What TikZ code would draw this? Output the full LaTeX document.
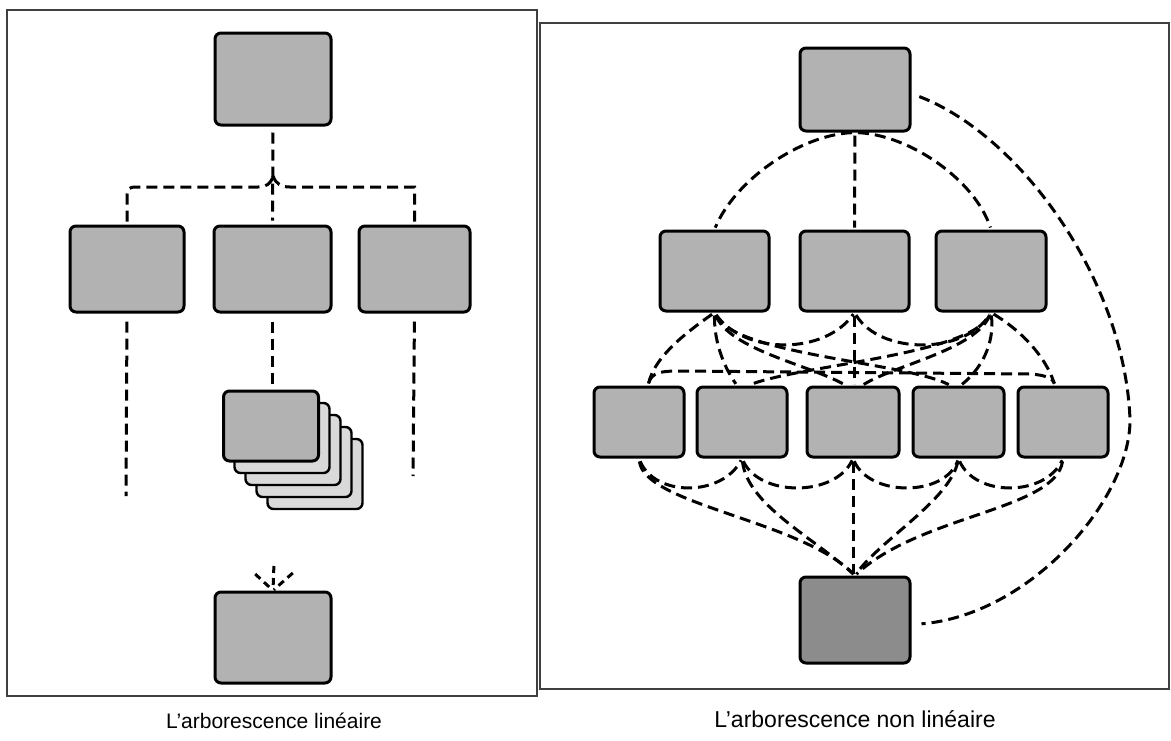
\documentclass[tikz,border=0pt]{standalone}
\usepackage{fontspec}
\setmainfont{Liberation Sans}
\usetikzlibrary{calc}
\begin{document}
\begin{tikzpicture}[x=0.5pt,y=-0.5pt,
  box/.style={draw=black, line width=1.5pt, rounded corners=3pt, fill=black!30, inner sep=0pt},
  backcard/.style={box, line width=1.2pt, fill=black!15},
  darkbox/.style={box, fill=black!45},
  dl/.style={dashed, dash pattern=on 5.5pt off 3pt, line width=1.5pt, shorten <=1.5pt, shorten >=1pt},
  frame/.style={draw=black!75, line width=0.9pt},
  captext/.style={inner sep=0pt},
  ]
\useasboundingbox (0,0) rectangle (1171,740);
% frames
\draw[frame] (7,10) rectangle (537,696);
\draw[frame] (540,23) rectangle (1169,689);

% ---------- left panel ----------
\node[box, minimum width=58pt, minimum height=46pt] (ltop) at (273,79) {};
\node[box, minimum width=57pt, minimum height=43pt] (lm1) at (127,269) {};
\node[box, minimum width=58.5pt, minimum height=43pt] (lm2) at (272.5,269) {};
\node[box, minimum width=55.5pt, minimum height=43pt] (lm3) at (414.5,269) {};
\foreach \k in {4,3,2,1}{
  \node[backcard, minimum width=47.5pt, minimum height=35pt] (card\k) at (271+11*\k,426+12*\k) {};
}
\node[box, minimum width=47.5pt, minimum height=35pt] (card0) at (271,426) {};
\node[box, minimum width=58pt, minimum height=45.5pt] (lbot) at (273,637.5) {};

\coordinate (bj) at (273,176);
\draw[dl, shorten <=3pt, shorten >=2pt] (ltop.south) -- (lm2.north);
\draw[dl, shorten >=0pt] (lm1.north) -- (127,196) .. controls (127,189) and (129,187) .. (136,187) -- (258,187) .. controls (266,187) and (271,184) .. (bj);
\draw[dl, shorten >=0pt] (lm3.north) -- (414.5,187) -- (290,187) .. controls (281,187) and (276,184) .. (bj);
\coordinate (e1) at (126,498);
\coordinate (e3) at (413,478);
\draw[dl, shorten <=4pt] (lm1.south) -- (e1);
\draw[dl, shorten <=4pt] (lm3.south) -- (e3);
\draw[dl, shorten <=4pt, shorten >=3pt] (lm2.south) -- (lm2.south |- card0.north);
\coordinate (a1) at (274,563);
\coordinate (a2) at (253,572);
\coordinate (a3) at (295,571);
\draw[dl, dash pattern=on 3.5pt off 2.5pt, shorten >=0.5pt] (a1) -- (lbot.north);
\draw[dl, dash pattern=on 3.5pt off 2.5pt, shorten >=0.5pt] (a2) -- (lbot.north);
\draw[dl, dash pattern=on 3.5pt off 2.5pt, shorten >=0.5pt] (a3) -- (lbot.north);

\node[captext, font=\fontsize{10.5}{12}\selectfont] (cap1) at (274,721) {L'arborescence linéaire};

% ---------- right panel ----------
\node[box, minimum width=55pt, minimum height=41.5pt] (rtop) at (855,89.5) {};
\node[box, minimum width=54.5pt, minimum height=40pt] (rm1) at (714.5,271) {};
\node[box, minimum width=54.5pt, minimum height=40pt] (rm2) at (854.5,271) {};
\node[box, minimum width=55pt, minimum height=40pt] (rm3) at (991,271) {};
\node[box, minimum width=45pt, minimum height=35pt] (rl1) at (639,422) {};
\node[box, minimum width=45pt, minimum height=35pt] (rl2) at (742,422) {};
\node[box, minimum width=46pt, minimum height=35pt] (rl3) at (853,422) {};
\node[box, minimum width=45.5pt, minimum height=35pt] (rl4) at (958.5,422) {};
\node[box, minimum width=45pt, minimum height=35pt] (rl5) at (1063,422) {};
\node[darkbox, minimum width=55pt, minimum height=43pt] (rbot) at (855,620) {};

% top connections
\draw[dl] (rtop.south) -- (rm2.north);
\draw[dl] (rtop.south) .. controls (800,135) and (735,180) .. (rm1.north);
\draw[dl] (rtop.south) .. controls (910,135) and (975,180) .. (rm3.north);
\draw[dl] ($(rtop.east)+(5,6)$) .. controls (1020,135) and (1125,280) .. (1130,420)
          .. controls (1130,500) and (1030,615) .. ($(rbot.east)+(8,4)$);

% middle to lower
\coordinate (l1in) at ($(rl1.north)+(9,0)$);
\coordinate (l2a) at ($(rl2.north)+(-5,0)$);
\coordinate (l2b) at ($(rl2.north)+(6,0)$);
\coordinate (l3a) at ($(rl3.north)+(-7,0)$);
\coordinate (l3b) at ($(rl3.north)+(9,0)$);
\coordinate (l4a) at ($(rl4.north)+(-8,0)$);
\coordinate (l4b) at ($(rl4.north)+(2,0)$);
\coordinate (l5in) at ($(rl5.north)+(-8,0)$);

\draw[dl] (rm1.south) .. controls (690,330) and (655,355) .. (l1in);
\draw[dl] (rm1.south) .. controls (714,345) and (726,370) .. (l2a);
\draw[dl] (rm1.south) .. controls (730,350) and (810,365) .. (l3a);
\draw[dl] (rm1.south) .. controls (735,355) and (905,362) .. (l4a);
\draw[dl] (rm1.south) .. controls (745,355) and (825,355) .. (rm2.south);
\draw[dl] (rm2.south) .. controls (880,355) and (965,355) .. (rm3.south);
\draw[dl] (rm2.south) -- (rm2.south |- rl3.north);
\draw[dl] (rm3.south) .. controls (1020,330) and (1045,355) .. (l5in);
\draw[dl] (rm3.south) .. controls (995,345) and (980,370) .. (l4b);
\draw[dl] (rm3.south) .. controls (975,350) and (895,365) .. (l3b);
\draw[dl] (rm3.south) .. controls (970,355) and (800,365) .. (l2b);
\draw[dl] (l1in) .. controls (652,372) and (662,371) .. (680,371) -- (1030,374)
          .. controls (1045,375) and (1053,378) .. (l5in);

% lower to bottom
\draw[dl] (rl1.south) .. controls (655,497) and (722,497) .. (rl2.south);
\draw[dl] (rl2.south) .. controls (760,497) and (835,497) .. (rl3.south);
\draw[dl] (rl3.south) .. controls (870,497) and (945,497) .. (rl4.south);
\draw[dl] (rl4.south) .. controls (975,497) and (1045,497) .. (rl5.south);
\draw[dl] (rl1.south) .. controls (645,505) and (800,520) .. (rbot.north);
\draw[dl] (rl2.south) .. controls (748,505) and (810,535) .. (rbot.north);
\draw[dl] (rl3.south) -- (rl3.south |- rbot.north);
\draw[dl] (rl4.south) .. controls (950,500) and (880,540) .. (rbot.north);
\draw[dl] (rl5.south) .. controls (1055,510) and (920,515) .. (rbot.north);

\node[captext, font=\fontsize{11.5}{13}\selectfont] (cap2) at (855,719) {L'arborescence non linéaire};
\end{tikzpicture}
\end{document}
